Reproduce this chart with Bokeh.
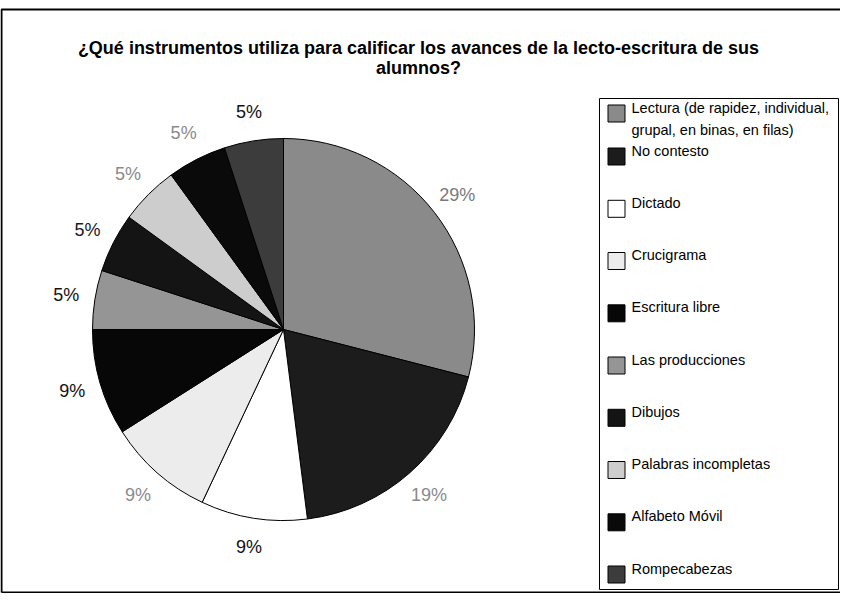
import math
from bokeh.plotting import figure
from bokeh.models import Range1d, ColumnDataSource
from bokeh.core.properties import value
from bokeh.embed import file_html
from bokeh.resources import INLINE

# ---------------- data ----------------
title_lines = [
    "¿Qué instrumentos utiliza para calificar los avances de la lecto-escritura de sus",
    "alumnos?",
]
categories = [
    "Lectura (de rapidez, individual, grupal, en binas, en filas)",
    "No contesto",
    "Dictado",
    "Crucigrama",
    "Escritura libre",
    "Las producciones",
    "Dibujos",
    "Palabras incompletas",
    "Alfabeto Móvil",
    "Rompecabezas",
]
legend_lines = [
    ["Lectura (de rapidez, individual,", "grupal, en binas, en filas)"],
    ["No contesto"],
    ["Dictado"],
    ["Crucigrama"],
    ["Escritura libre"],
    ["Las producciones"],
    ["Dibujos"],
    ["Palabras incompletas"],
    ["Alfabeto Móvil"],
    ["Rompecabezas"],
]
percentages = [29, 19, 9, 9, 9, 5, 5, 5, 5, 5]
slice_colors = ["#8a8a8a", "#1c1c1c", "#ffffff", "#ececec", "#070707",
                "#959595", "#141414", "#cdcdcd", "#0a0a0a", "#3c3c3c"]
label_colors = ["#7a7a7a", "#8a8a8a", "#111111", "#8a8a8a", "#111111",
                "#111111", "#1a1a1a", "#8a8a8a", "#8a8a8a", "#111111"]

# ---------------- layout (screen pixels) ----------------
W, H = 840, 593
FONT = "Liberation Sans"


def sy(s):
    return 609 - s


p = figure(width=W, height=H, output_backend="svg", toolbar_location=None,
           x_range=Range1d(8, 8 + W), y_range=Range1d(609 - 8 - H, 609 - 8),
           min_border=0, outline_line_color=None, background_fill_color="white",
           border_fill_color="white")
p.axis.visible = False
p.grid.visible = False

# outer frame (right side lies outside the picture)
p.line(x=[9, 9, 900], y=[sy(600), sy(17), sy(17)], line_color="black", line_width=2)
p.line(x=[9, 900], y=[sy(600), sy(600)], line_color="black", line_width=2)

# title
p.text(x=[426, 426], y=[sy(55), sy(75)], text=title_lines, text_font=value(FONT),
       text_font_style="bold", text_font_size="18px", text_align="center",
       text_baseline="middle", text_color="black")

# pie
cx, cy, R = 291, sy(337), 191
total = float(sum(percentages))
starts, ends, mids = [], [], []
cum = 0.0
for v in percentages:
    a0 = math.pi / 2 - 2 * math.pi * cum / total
    cum += v
    a1 = math.pi / 2 - 2 * math.pi * cum / total
    starts.append(a0)
    ends.append(a1)
    mids.append((a0 + a1) / 2)

src = ColumnDataSource(dict(start=starts, end=ends, color=slice_colors, cat=categories))
p.wedge(x=cx, y=cy, radius=R, start_angle="start", end_angle="end", direction="clock",
        fill_color="color", line_color="black", line_width=1, source=src)

# percentage labels
RL = 220
lx = [cx + RL * math.cos(a) for a in mids]
ly = [cy + RL * math.sin(a) for a in mids]
ltext = ["%d%%" % v for v in percentages]
p.text(x=lx, y=ly, text=ltext, text_color=label_colors, text_font=value(FONT),
       text_font_size="18px", text_align="center", text_baseline="middle")

# legend box
LX0, LX1, LY0, LY1 = 607, 846, 106, 597
p.quad(left=[LX0], right=[LX1], top=[sy(LY0)], bottom=[sy(LY1)],
       fill_color="white", line_color="black", line_width=1)

row_y = [115, 158, 210.3, 262.5, 314.8, 367, 419.3, 471.5, 523.8, 576]
sw_x, sw_y, tx, ty, tt = [], [], [], [], []
for i, lines in enumerate(legend_lines):
    y0 = row_y[i]
    sw_x.append(624)
    sw_y.append(sy(y0 + 6))
    for j, t in enumerate(lines):
        tx.append(639)
        ty.append(sy(y0 + 22 * j))
        tt.append(t)

p.rect(x=sw_x, y=sw_y, width=17, height=17, fill_color=slice_colors,
       line_color="black", line_width=1)
p.text(x=tx, y=ty, text=tt, text_font=value(FONT), text_font_size="14.5px",
       text_align="left", text_baseline="middle", text_color="black")

open("out.html", "w").write(file_html(p, INLINE))
